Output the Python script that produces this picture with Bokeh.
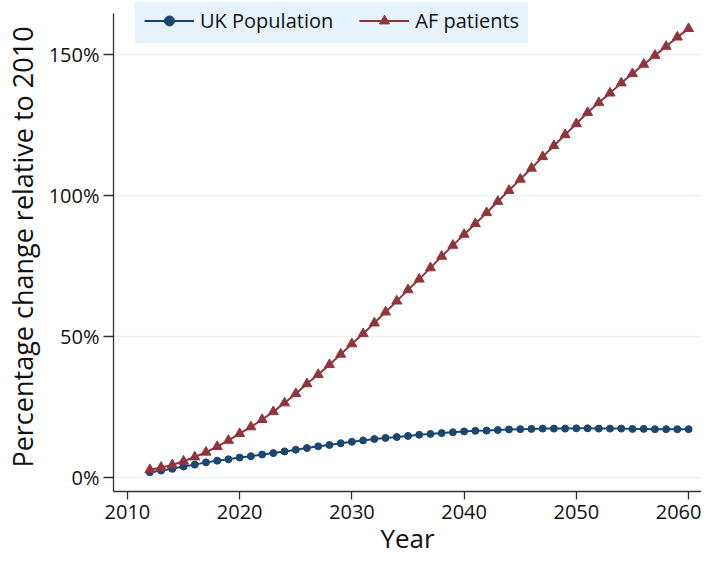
from bokeh.plotting import figure
from bokeh.models import Range1d, FixedTicker, Legend, LegendItem
from bokeh.embed import file_html
from bokeh.resources import INLINE

years = [2012, 2013, 2014, 2015, 2016, 2017, 2018, 2019, 2020, 2021,
         2022, 2023, 2024, 2025, 2026, 2027, 2028, 2029, 2030, 2031,
         2032, 2033, 2034, 2035, 2036, 2037, 2038, 2039, 2040, 2041,
         2042, 2043, 2044, 2045, 2046, 2047, 2048, 2049, 2050, 2051,
         2052, 2053, 2054, 2055, 2056, 2057, 2058, 2059, 2060]

uk_population = [1.7, 2.3, 2.9, 3.7, 4.4, 5.2, 5.8, 6.3, 6.9, 7.4,
                 8.0, 8.5, 9.1, 9.7, 10.3, 10.9, 11.4, 12.0, 12.5, 13.0,
                 13.5, 13.9, 14.2, 14.6, 15.0, 15.3, 15.6, 15.9, 16.2, 16.4,
                 16.5, 16.7, 16.9, 17.0, 17.1, 17.2, 17.2, 17.2, 17.3, 17.3,
                 17.2, 17.2, 17.2, 17.1, 17.1, 17.0, 17.0, 17.0, 17.0]

af_patients = [2.6, 3.4, 4.3, 5.6, 7.1, 8.8, 10.8, 13.0, 15.4, 17.8,
               20.4, 23.2, 26.3, 29.6, 33.1, 36.4, 39.9, 43.6, 47.3, 50.9,
               54.7, 58.6, 62.5, 66.5, 70.3, 74.3, 78.4, 82.3, 86.2, 90.0,
               93.9, 97.9, 101.8, 105.8, 109.7, 113.8, 117.7, 121.6, 125.5, 129.5,
               133.0, 136.4, 140.0, 143.3, 146.6, 149.8, 153.0, 156.3, 159.3]

x_ticks = [2010, 2020, 2030, 2040, 2050, 2060]
y_ticks = [0, 50, 100, 150]
y_tick_labels = ["0%", "50%", "100%", "150%"]
x_title = "Year"
y_title = "Percentage change relative to 2010"

FONT = "Open Sans"
BLUE = "#1a476f"
RED = "#90353b"
LEGEND_BG = "#e6f3fc"

X0, X1 = 2008.76, 2061.15
Y0, Y1 = -5.15, 168.6
Y_AXIS_TOP = 164.7

p = figure(width=701, height=558, output_backend="svg", toolbar_location=None,
           x_range=Range1d(X0, X1), y_range=Range1d(Y0, Y1),
           min_border_left=111, min_border_right=0, min_border_top=2,
           min_border_bottom=65)
p.outline_line_color = None
p.background_fill_color = "white"

l1 = p.line(years, uk_population, line_color=BLUE, line_width=2)
s1 = p.scatter(years, uk_population, marker="circle", size=7,
               fill_color=BLUE, line_color=BLUE)
l2 = p.line(years, af_patients, line_color=RED, line_width=2)
s2 = p.scatter(years, af_patients, marker="triangle", size=10,
               fill_color=RED, line_color=RED)

p.xgrid.visible = False
p.ygrid.ticker = FixedTicker(ticks=y_ticks)
p.ygrid.grid_line_color = "#e8f0f1"
p.ygrid.grid_line_width = 1.5

for ax in (p.xaxis[0], p.yaxis[0]):
    ax.axis_line_color = "#333333"
    ax.axis_line_width = 1.3
    ax.major_tick_line_color = "#333333"
    ax.major_tick_line_width = 1.3
    ax.major_tick_out = 8
    ax.major_tick_in = 0
    ax.minor_tick_line_color = None
    ax.major_label_text_font = FONT
    ax.major_label_text_font_size = "20px"
    ax.major_label_text_color = "#111111"
    ax.axis_label_text_font = FONT
    ax.axis_label_text_font_style = "normal"
    ax.axis_label_text_color = "#111111"

p.xaxis.ticker = FixedTicker(ticks=x_ticks)
p.xaxis.axis_label = x_title
p.xaxis.axis_label_text_font_size = "26px"
p.xaxis.major_label_standoff = 5
p.xaxis.axis_label_standoff = -2
p.xaxis.axis_label_text_baseline = "middle"

p.yaxis.ticker = FixedTicker(ticks=y_ticks)
p.yaxis.bounds = (Y0, Y_AXIS_TOP)
p.yaxis.major_label_overrides = {t: lab for t, lab in zip(y_ticks, y_tick_labels)}
p.yaxis.axis_label = y_title
p.yaxis.axis_label_text_font_size = "27px"
p.yaxis.major_tick_out = 10
p.yaxis.major_label_standoff = 4
p.yaxis.axis_label_standoff = 5

legend = Legend(items=[
    LegendItem(label="UK Population", renderers=[l1, s1]),
    LegendItem(label="AF patients", renderers=[l2, s2]),
], orientation="horizontal", location=(22, 448))
legend.background_fill_color = LEGEND_BG
legend.background_fill_alpha = 1.0
legend.border_line_color = LEGEND_BG
legend.border_line_width = 1
legend.label_text_font = FONT
legend.label_text_font_size = "20px"
legend.label_text_color = "#111111"
legend.glyph_width = 50
legend.glyph_height = 25
legend.label_standoff = 6
legend.spacing = 26
legend.padding = 8
legend.margin = 0
p.add_layout(legend, "center")

open("out.html", "w").write(file_html(p, INLINE))
